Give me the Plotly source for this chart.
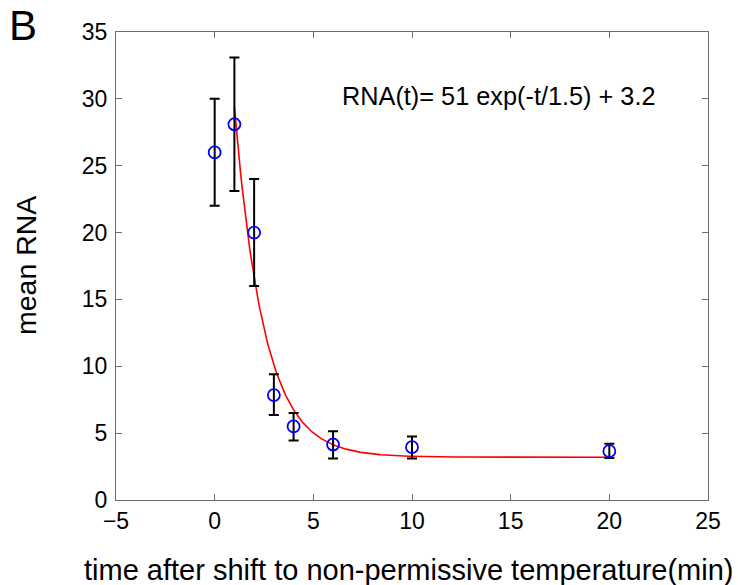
import numpy as np
import plotly.graph_objects as go

# Data
time_min = [0, 1, 2, 3, 4, 6, 10, 20]
mean_rna = [26.0, 28.1, 20.0, 7.85, 5.5, 4.15, 3.95, 3.65]
err_upper = [30.0, 33.1, 24.0, 9.4, 6.5, 5.15, 4.75, 4.2]
err_lower = [22.0, 23.1, 16.0, 6.35, 4.45, 3.1, 3.1, 3.15]

# Fit parameters shown on the chart: RNA(t) = A exp(-t/tau) + C
fit_A = 51.0
fit_tau = 1.5
fit_C = 3.2
fit_t_start = 1
fit_t_end = 20

x_ticks = [-5, 0, 5, 10, 15, 20, 25]
y_ticks = [0, 5, 10, 15, 20, 25, 30, 35]

err_plus = [u - m for u, m in zip(err_upper, mean_rna)]
err_minus = [m - l for m, l in zip(mean_rna, err_lower)]

t_fit = np.linspace(fit_t_start, fit_t_end, 300)
rna_fit = fit_A * np.exp(-t_fit / fit_tau) + fit_C

FONT = "Liberation Sans, Arial, Helvetica, sans-serif"

fig = go.Figure()
fig.add_trace(go.Scatter(
    x=t_fit, y=rna_fit, mode="lines",
    line=dict(color="#ff0000", width=1.6),
    hoverinfo="skip", showlegend=False))
fig.add_trace(go.Scatter(
    x=time_min, y=mean_rna, mode="markers",
    marker=dict(symbol="circle-open", size=12, color="#0000ff",
                line=dict(width=1.8, color="#0000ff")),
    error_y=dict(type="data", symmetric=False, array=err_plus,
                 arrayminus=err_minus, color="black", thickness=2, width=5),
    showlegend=False))

axis_common = dict(
    showline=True, linecolor="#6e6e6e", linewidth=1.2, mirror="ticks",
    ticks="inside", ticklen=6, tickcolor="#6e6e6e", tickwidth=1.2,
    showgrid=False, zeroline=False,
    tickfont=dict(family=FONT, size=23, color="black"),
)

L, R, T, B = 116, 30, 32, 85
plot_w = 738 - L - R
plot_h = 585 - T - B


def px_x(x):
    return (x - L) / plot_w


def px_y(y):
    return (585 - B - y) / plot_h


fig.update_layout(
    width=738, height=585,
    margin=dict(l=L, r=R, t=T, b=B),
    paper_bgcolor="white", plot_bgcolor="white",
    xaxis=dict(range=[-5, 25], tickvals=x_ticks,
               ticktext=[("\u2212" + str(-v)) if v < 0 else str(v) for v in x_ticks],
               **axis_common),
    yaxis=dict(range=[0, 35], tickvals=y_ticks, ticklabelstandoff=3,
               **axis_common),
    annotations=[
        dict(text="RNA(t)= 51 exp(-t/1.5) + 3.2", x=px_x(498.5), y=px_y(96),
             xref="paper", yref="paper", xanchor="center", yanchor="middle",
             showarrow=False, font=dict(family=FONT, size=25.3, color="black")),
        dict(text="B", xref="paper", yref="paper", x=px_x(22.5), y=px_y(25.5),
             xanchor="center", yanchor="middle", showarrow=False,
             font=dict(family=FONT, size=42, color="black")),
        dict(text="time after shift to non-permissive temperature(min)",
             xref="paper", yref="paper", x=px_x(408.5), y=px_y(570),
             xanchor="center", yanchor="middle", showarrow=False,
             font=dict(family=FONT, size=29, color="black")),
        dict(text="mean RNA", xref="paper", yref="paper", x=px_x(26), y=px_y(266),
             xanchor="center", yanchor="middle", textangle=-90, showarrow=False,
             font=dict(family=FONT, size=28.5, color="black")),
    ],
)

fig.write_html("out.html", config={"displayModeBar": False},
               post_script="document.body.style.margin='0';")
